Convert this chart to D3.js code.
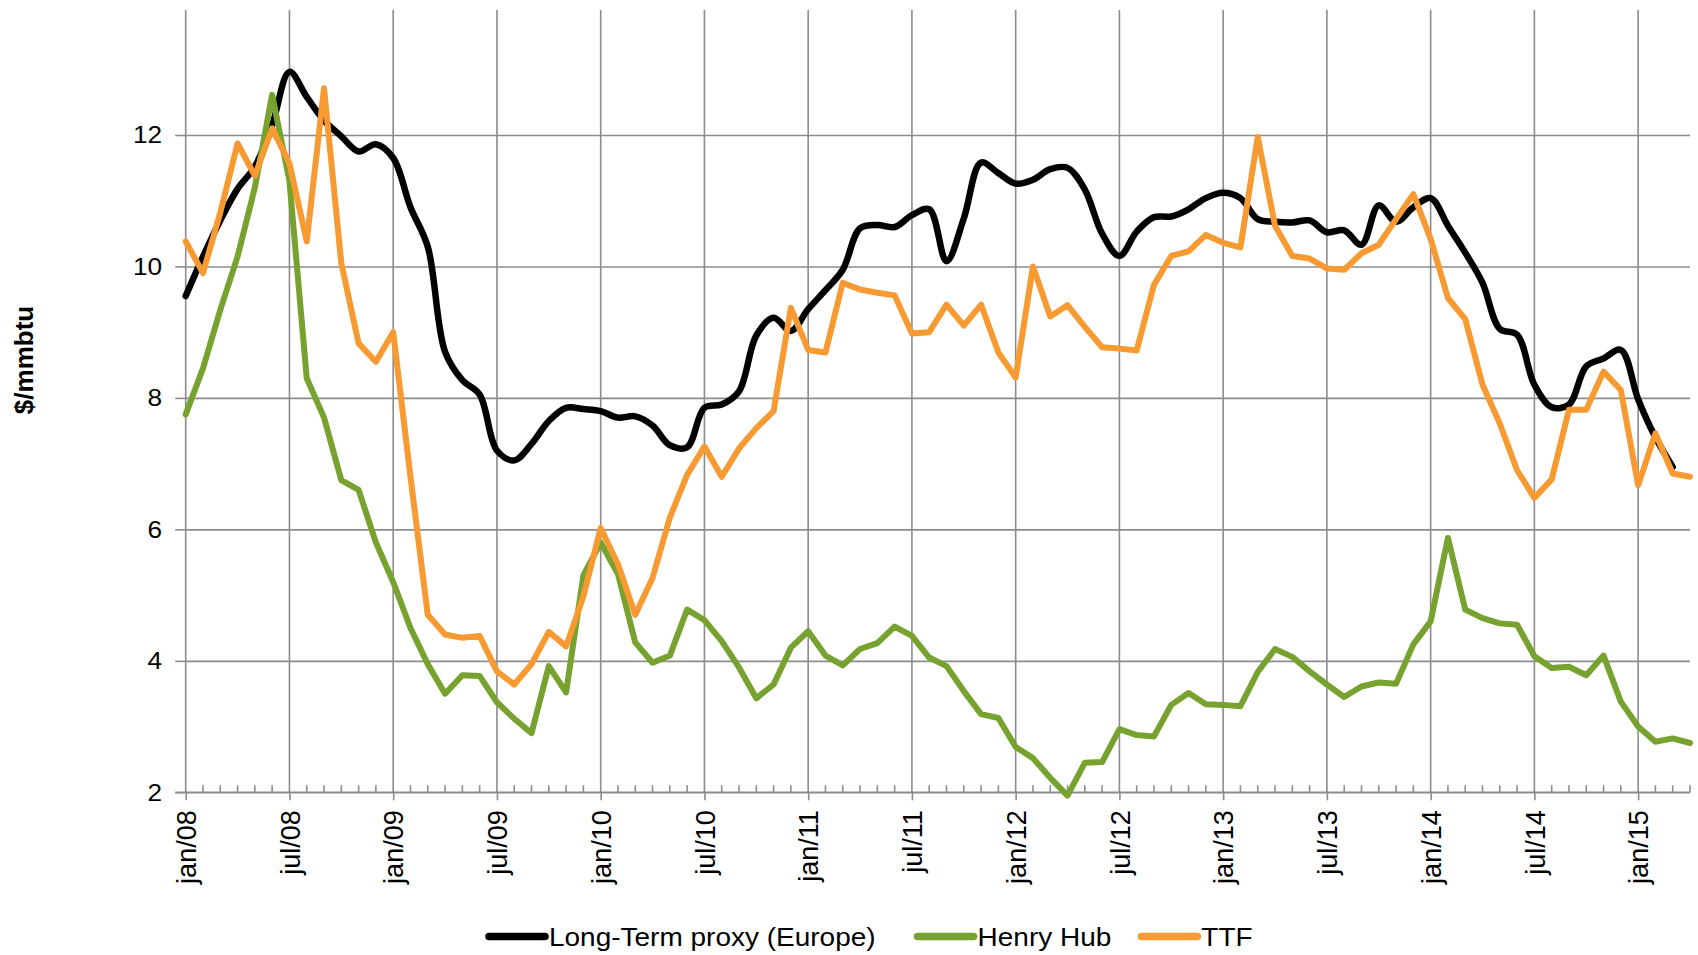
<!DOCTYPE html>
<html>
<head>
<meta charset="utf-8">
<script src="https://cdn.jsdelivr.net/npm/d3@7"></script>
<style>
  body { margin: 0; background: #fff; }
  svg { font-family: "Liberation Sans", Arial, sans-serif; }
</style>
</head>
<body>
<div id="chart"></div>
<script>
// Monthly values, jan/08 .. apr/15 ($/mmbtu)
const longTerm = [9.55, 10.15, 10.7, 11.18, 11.52, 12.15, 12.96, 12.58, 12.22, 11.98, 11.75, 11.86,
  11.65, 10.9, 10.3, 8.7, 8.27, 8.05, 7.2, 7.05, 7.3, 7.65, 7.85, 7.83,
  7.8, 7.7, 7.72, 7.58, 7.28, 7.25, 7.85, 7.9, 8.1, 8.95, 9.22, 9.02,
  9.35, 9.64, 9.95, 10.58, 10.63, 10.6, 10.78, 10.87, 10.08, 10.73, 11.58, 11.42,
  11.26, 11.32, 11.48, 11.5, 11.17, 10.5, 10.16, 10.53, 10.75, 10.76, 10.87, 11.04,
  11.12, 11.04, 10.72, 10.68, 10.67, 10.7, 10.52, 10.55, 10.33, 10.93, 10.68, 10.9,
  11.04, 10.62, 10.21, 9.75, 9.05, 8.96, 8.2, 7.86, 7.9, 8.48, 8.6, 8.73,
  7.98, 7.4, 6.95];

const henryHub = [7.75, 8.45, 9.34, 10.15, 11.2, 12.61, 11.3, 8.3, 7.7, 6.75, 6.6, 5.8,
  5.2, 4.5, 3.95, 3.5, 3.78, 3.77, 3.37, 3.12, 2.9, 3.92, 3.52, 5.3,
  5.8, 5.32, 4.28, 3.97, 4.08, 4.78, 4.62, 4.3, 3.9, 3.43, 3.64, 4.2,
  4.45, 4.08, 3.93, 4.18, 4.27, 4.52, 4.38, 4.05, 3.92, 3.54, 3.19, 3.13,
  2.69, 2.52, 2.22, 1.95, 2.45, 2.46, 2.96, 2.87, 2.85, 3.33, 3.51, 3.34,
  3.33, 3.31, 3.83, 4.18, 4.06, 3.84, 3.64, 3.45, 3.61, 3.67, 3.65, 4.25,
  4.6, 5.87, 4.78, 4.65, 4.57, 4.55, 4.07, 3.89, 3.91, 3.78, 4.08, 3.38,
  3.0, 2.77, 2.82, 2.75];

const ttf = [10.38, 9.9, 10.82, 11.87, 11.38, 12.1, 11.57, 10.38, 12.71, 10.05, 8.83, 8.55,
  9.0, 6.8, 4.7, 4.4, 4.35, 4.38, 3.84, 3.64, 3.95, 4.44, 4.22, 4.98,
  6.02, 5.47, 4.7, 5.26, 6.18, 6.83, 7.26, 6.8, 7.23, 7.54, 7.8, 9.37,
  8.73, 8.69, 9.75, 9.65, 9.6, 9.56, 8.98, 9.0, 9.42, 9.1, 9.42, 8.69,
  8.31, 10.0, 9.24, 9.41, 9.08, 8.77, 8.75, 8.72, 9.72, 10.16, 10.23, 10.48,
  10.36, 10.29, 11.97, 10.62, 10.16, 10.12, 9.97, 9.95, 10.2, 10.33, 10.72, 11.1,
  10.42, 9.52, 9.2, 8.2, 7.61, 6.9, 6.48, 6.76, 7.82, 7.82, 8.4, 8.12,
  6.67, 7.46, 6.85, 6.8];

const tickLabels = ["jan/08", "jul/08", "jan/09", "jul/09", "jan/10", "jul/10", "jan/11", "jul/11",
  "jan/12", "jul/12", "jan/13", "jul/13", "jan/14", "jul/14", "jan/15"];
const yTicks = [2, 4, 6, 8, 10, 12];

const series = [
  { name: "Long-Term proxy (Europe)", values: longTerm, color: "#000000", width: 6.5, smooth: true },
  { name: "Henry Hub", values: henryHub, color: "#77a22f", width: 6, smooth: false },
  { name: "TTF", values: ttf, color: "#f79a31", width: 6, smooth: false }
];

const width = 1698;
const height = 955;
const marginLeft = 185.7;
const marginRight = 8;
const marginTop = 10.1;
const marginBottom = 162.7;
const nMonths = 88;

const svg = d3.select("#chart").append("svg")
  .attr("width", width)
  .attr("height", height)
  .attr("viewBox", [0, 0, width, height]);

// x: month index, evenly spaced like Excel's month base unit
const x = d3.scaleLinear()
  .domain([0, nMonths - 1])
  .range([marginLeft, width - marginRight]);

const y = d3.scaleLinear()
  .domain([2, 13.9])
  .range([height - marginBottom, marginTop]);

const grid = "#8c8c8c";
const majorIdx = tickLabels.map((d, i) => i * 6);

// horizontal gridlines + left ticks
svg.append("g")
  .attr("transform", `translate(${marginLeft},0)`)
  .call(d3.axisLeft(y).tickValues(yTicks).tickSize(10.5).tickPadding(12).tickFormat(d3.format("d")))
  .call(g => g.select(".domain").attr("stroke", grid).attr("stroke-width", 1.6)
    .attr("d", `M0,${y(2)}V${marginTop}`))
  .call(g => g.selectAll(".tick line").attr("stroke", grid).attr("stroke-width", 1.6))
  .call(g => g.selectAll(".tick line").clone()
    .attr("x2", width - marginRight - marginLeft))
  .call(g => g.selectAll(".tick text")
    .attr("fill", "#000")
    .attr("font-size", 24.5)
    .attr("transform", "scale(1.07,1)")
    .attr("x", -22.5 / 1.07 - 1));

// vertical gridlines
svg.append("g")
  .selectAll("line")
  .data(majorIdx.slice(1))
  .join("line")
  .attr("x1", d => x(d)).attr("x2", d => x(d))
  .attr("y1", marginTop).attr("y2", y(2))
  .attr("stroke", grid).attr("stroke-width", 1.6);

// minor month ticks pointing into the plot
svg.append("g")
  .selectAll("line")
  .data(d3.range(1, nMonths).filter(i => i % 6 !== 0))
  .join("line")
  .attr("x1", d => x(d)).attr("x2", d => x(d))
  .attr("y1", y(2)).attr("y2", y(2) - 7)
  .attr("stroke", grid).attr("stroke-width", 1.6);

// x axis with rotated labels
svg.append("g")
  .attr("transform", `translate(0,${y(2)})`)
  .call(d3.axisBottom(x).tickValues(majorIdx).tickSize(8).tickFormat((d, i) => tickLabels[i]))
  .call(g => g.select(".domain").attr("stroke", grid).attr("stroke-width", 1.6)
    .attr("d", `M${marginLeft - 10.5},0H${width - marginRight}`))
  .call(g => g.selectAll(".tick line").attr("stroke", grid).attr("stroke-width", 1.6))
  .call(g => g.selectAll(".tick text")
    .attr("fill", "#000")
    .attr("font-size", 27)
    .attr("transform", "rotate(-90)")
    .attr("text-anchor", "end")
    .attr("x", -18)
    .attr("y", 0)
    .attr("dy", "0.36em"));

// y title
svg.append("text")
  .attr("transform", "translate(24,360) rotate(-90)")
  .attr("text-anchor", "middle")
  .attr("dy", "0.35em")
  .attr("font-size", 26)
  .attr("font-weight", "bold")
  .text("$/mmbtu");

// lines
for (const s of series) {
  const line = d3.line()
    .x((d, i) => x(i))
    .y(d => y(d))
    .curve(s.smooth ? d3.curveCatmullRom : d3.curveLinear);
  svg.append("path")
    .attr("fill", "none")
    .attr("stroke", s.color)
    .attr("stroke-width", s.width)
    .attr("stroke-linejoin", "round")
    .attr("stroke-linecap", "round")
    .attr("d", line(s.values));
}

// legend
const legend = svg.append("g").attr("font-size", 26);
const gaps = [42, 30, 0];
const stretch = 1.077;
let lx = 489;
const ly = 936.5;
series.forEach((s, i) => {
  legend.append("line")
    .attr("x1", lx).attr("x2", lx + 56)
    .attr("y1", ly).attr("y2", ly)
    .attr("stroke", s.color)
    .attr("stroke-width", 7.5)
    .attr("stroke-linecap", "round");
  const t = legend.append("text")
    .attr("transform", `translate(${lx + 60},${ly}) scale(${stretch},1)`)
    .attr("dy", "0.35em")
    .text(s.name);
  lx += 60 + t.node().getComputedTextLength() * stretch + gaps[i];
});
</script>
</body>
</html>
